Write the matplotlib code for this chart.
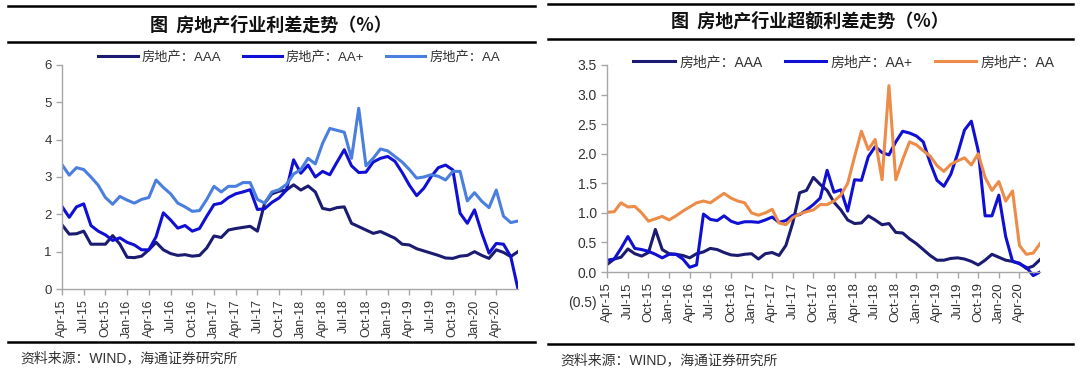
import numpy as np
import matplotlib.pyplot as plt
from matplotlib.lines import Line2D

plt.rcParams['font.family'] = ['Liberation Sans', 'Noto Sans CJK SC']

# monthly data, Apr-15 .. Jul-20
tick_labels = ['Apr-15', 'Jul-15', 'Oct-15', 'Jan-16', 'Apr-16', 'Jul-16', 'Oct-16',
               'Jan-17', 'Apr-17', 'Jul-17', 'Oct-17', 'Jan-18', 'Apr-18', 'Jul-18',
               'Oct-18', 'Jan-19', 'Apr-19', 'Jul-19', 'Oct-19', 'Jan-20', 'Apr-20']

''' left chart: spread (%) '''
left_aaa = [1.72, 1.47, 1.48, 1.55, 1.2, 1.2, 1.2, 1.43, 1.2, 0.85,
            0.84, 0.88, 1.05, 1.25, 1.05, 0.95, 0.9, 0.92, 0.88, 0.9,
            1.1, 1.42, 1.38, 1.58, 1.62, 1.65, 1.68, 1.55, 2.3, 2.55,
            2.62, 2.65, 2.79, 2.65, 2.76, 2.6, 2.16, 2.12, 2.18, 2.2,
            1.76, 1.67, 1.58, 1.49, 1.54, 1.45, 1.36, 1.2, 1.18, 1.08,
            1.02, 0.96, 0.9, 0.83, 0.82, 0.88, 0.9, 1.0, 0.9, 0.82,
            1.05, 0.98, 0.87, 1.0]
left_aap = [2.21, 1.92, 2.2, 2.28, 1.7, 1.55, 1.45, 1.3, 1.37, 1.25,
            1.18, 1.05, 1.05, 1.4, 2.04, 1.85, 1.63, 1.7, 1.55, 1.62,
            1.95, 2.26, 2.3, 2.45, 2.55, 2.6, 2.66, 2.13, 2.15, 2.32,
            2.44, 2.65, 3.46, 3.1, 3.32, 3.0, 3.15, 3.06, 3.4, 3.73,
            3.3, 3.12, 3.13, 3.4, 3.5, 3.55, 3.42, 3.12, 2.78, 2.5,
            2.7, 3.01, 3.25, 3.32, 3.19, 2.03, 1.76, 2.12, 1.5, 0.96,
            1.22, 1.2, 0.87, 0.0]
left_aa = [3.33, 3.05, 3.25, 3.2, 3.0, 2.78, 2.45, 2.27, 2.48, 2.38,
           2.3, 2.4, 2.45, 2.92, 2.72, 2.55, 2.3, 2.2, 2.08, 2.1,
           2.4, 2.75, 2.6, 2.75, 2.75, 2.85, 2.85, 2.4, 2.3, 2.6,
           2.66, 2.8, 3.08, 3.2, 3.5, 3.35, 3.9, 4.3, 4.25, 4.2,
           3.5, 4.84, 3.3, 3.5, 3.75, 3.7, 3.55, 3.4, 3.2, 2.97,
           3.0, 3.06, 3.02, 2.92, 3.15, 3.15, 2.36, 2.58, 2.35, 2.18,
           2.65, 1.95, 1.78, 1.82]

''' right chart: excess spread (%) '''
right_aaa = [0.13, 0.22, 0.25, 0.39, 0.31, 0.27, 0.33, 0.72, 0.38, 0.31,
             0.3, 0.28, 0.24, 0.31, 0.34, 0.4, 0.38, 0.33, 0.29, 0.28,
             0.3, 0.31, 0.22, 0.31, 0.33, 0.28, 0.45, 0.83, 1.34, 1.38,
             1.6, 1.48, 1.38, 1.18, 1.05, 0.88, 0.82, 0.83, 0.95, 0.88,
             0.8, 0.82, 0.67, 0.66, 0.56, 0.48, 0.38, 0.28, 0.2, 0.2,
             0.23, 0.24, 0.22, 0.18, 0.12, 0.2, 0.3, 0.25, 0.2, 0.18,
             0.15, 0.06, 0.1, 0.21]
right_aap = [0.2, 0.22, 0.4, 0.6, 0.4, 0.38, 0.35, 0.3, 0.24, 0.3,
             0.3, 0.22, 0.08, 0.12, 0.98, 0.89, 0.87, 0.95, 0.86, 0.82,
             0.85, 0.85, 0.84, 0.88, 0.93, 0.84, 0.87, 0.96, 0.97, 1.05,
             1.14, 1.25, 1.72, 1.35, 1.39, 1.03, 1.56, 1.55, 1.95, 2.12,
             2.02, 1.98, 2.2, 2.38, 2.35, 2.3, 2.2, 1.85, 1.55, 1.45,
             1.65, 2.0, 2.4, 2.55, 2.05, 0.95, 0.95, 1.3, 0.6, 0.18,
             0.14, 0.08, -0.06, 0.0]
right_aa = [1.01, 1.02, 1.17, 1.1, 1.11, 1.0, 0.86, 0.9, 0.94, 0.88,
            0.95, 1.03, 1.1, 1.17, 1.2, 1.17, 1.25, 1.33, 1.25, 1.2,
            1.17, 1.0, 0.96, 1.0, 1.06, 0.83, 0.8, 0.92, 0.98, 1.02,
            1.05, 1.14, 1.14, 1.2, 1.3, 1.5, 1.95, 2.38, 2.07, 2.24,
            1.56, 3.15, 1.56, 1.9, 2.2, 2.15, 2.05, 1.96, 1.8, 1.7,
            1.82, 1.88, 1.93, 1.81, 2.0, 1.6, 1.38, 1.53, 1.2, 1.37,
            0.45, 0.3, 0.32, 0.48]

navy = '#1b1b72'
blue = '#1010d4'
light = '#4a7fe0'
orange = '#ec8c48'
gray = '#a6a6a6'
txt = '#333333'

fig = plt.figure(figsize=(10.8, 3.72), dpi=100)
fig.patch.set_facecolor('white')


def style(ax, size):
    for s in ['top', 'right']:
        ax.spines[s].set_visible(False)
    for s in ['left', 'bottom']:
        ax.spines[s].set_color(gray)
        ax.spines[s].set_linewidth(1.0)
    ax.tick_params(length=4, color=gray, labelsize=size, labelcolor=txt, width=1.0)
    ax.tick_params(axis='y', labelsize=size + 0.5)


''' left panel '''
x = np.arange(len(left_aaa))
ax1 = fig.add_axes([0.0574, 0.2231, 0.4222, 0.6022])
ax1.plot(x, left_aaa, color=navy, lw=2.2, label='房地产：AAA')
ax1.plot(x, left_aap, color=blue, lw=2.2, label='房地产：AA+')
ax1.plot(x, left_aa, color=light, lw=2.2, label='房地产：AA')
ax1.set_xlim(0, len(x) - 1)
ax1.set_ylim(0, 6)
ax1.set_yticks(range(0, 7))
ax1.set_xticks(x[::3][:len(tick_labels)])
ax1.set_xticklabels(tick_labels, rotation=90)
style(ax1, 9)
ax1.legend(ncol=3, loc='center', bbox_to_anchor=(0.52, 1.036), frameon=False,
           handlelength=3.0, columnspacing=1.6, fontsize=9.5, labelcolor=txt,
           borderaxespad=0, handletextpad=0.3)

''' right panel '''
xr = np.arange(len(right_aaa))
ax2 = fig.add_axes([0.5623, 0.1892, 0.4007, 0.6361])
# x axis crosses at 0, set before the ticks (set_position resets them)
ax2.spines['bottom'].set_position(('data', 0))
ax2.plot(xr, right_aaa, color=navy, lw=2.2, label='房地产：AAA')
ax2.plot(xr, right_aap, color=blue, lw=2.2, label='房地产：AA+')
ax2.plot(xr, right_aa, color=orange, lw=2.2, label='房地产：AA')
ax2.set_xlim(0, len(xr) - 1)
ax2.set_ylim(-0.5, 3.5)
ax2.set_yticks(np.arange(-0.5, 3.51, 0.5))
ax2.set_yticklabels(['(%.1f)' % abs(v) if v < 0 else '%.1f' % v
                     for v in np.arange(-0.5, 3.51, 0.5)])
ax2.set_xticks(xr[::3][:len(tick_labels)])
ax2.set_xticklabels(tick_labels, rotation=90)
style(ax2, 9.5)
ax2.spines['left'].set_bounds(0, 3.5)
ax2.yaxis.get_major_ticks()[0].tick1line.set_visible(False)
ax2.legend(ncol=3, loc='center', bbox_to_anchor=(0.547, 1.013), frameon=False,
           handlelength=3.0, columnspacing=1.6, fontsize=10, labelcolor=txt,
           borderaxespad=0, handletextpad=0.3)

''' titles, rules and source notes '''
for x0, x1, y in [(0.0074, 0.495, 0.984), (0.0074, 0.495, 0.888), (0.0074, 0.495, 0.081),
                  (0.507, 0.9935, 0.989), (0.507, 0.9935, 0.895), (0.507, 0.9935, 0.075)]:
    fig.add_artist(Line2D([x0, x1], [y, y], transform=fig.transFigure, color='black', lw=1.8))

fig.text(0.251, 0.933, '图  房地产行业利差走势（%）', ha='center', va='center',
         fontsize=13, fontweight='bold', family=['Noto Sans CJK SC'], color='#111111')
fig.text(0.750, 0.943, '图  房地产行业超额利差走势（%）', ha='center', va='center',
         fontsize=13, fontweight='bold', family=['Noto Sans CJK SC'], color='#111111')
fig.text(0.0185, 0.038, '资料来源：WIND，海通证券研究所', ha='left', va='center',
         fontsize=10, color=txt)
fig.text(0.5185, 0.032, '资料来源：WIND，海通证券研究所', ha='left', va='center',
         fontsize=10, color=txt)

plt.savefig('out.png', dpi=100, facecolor='white')
